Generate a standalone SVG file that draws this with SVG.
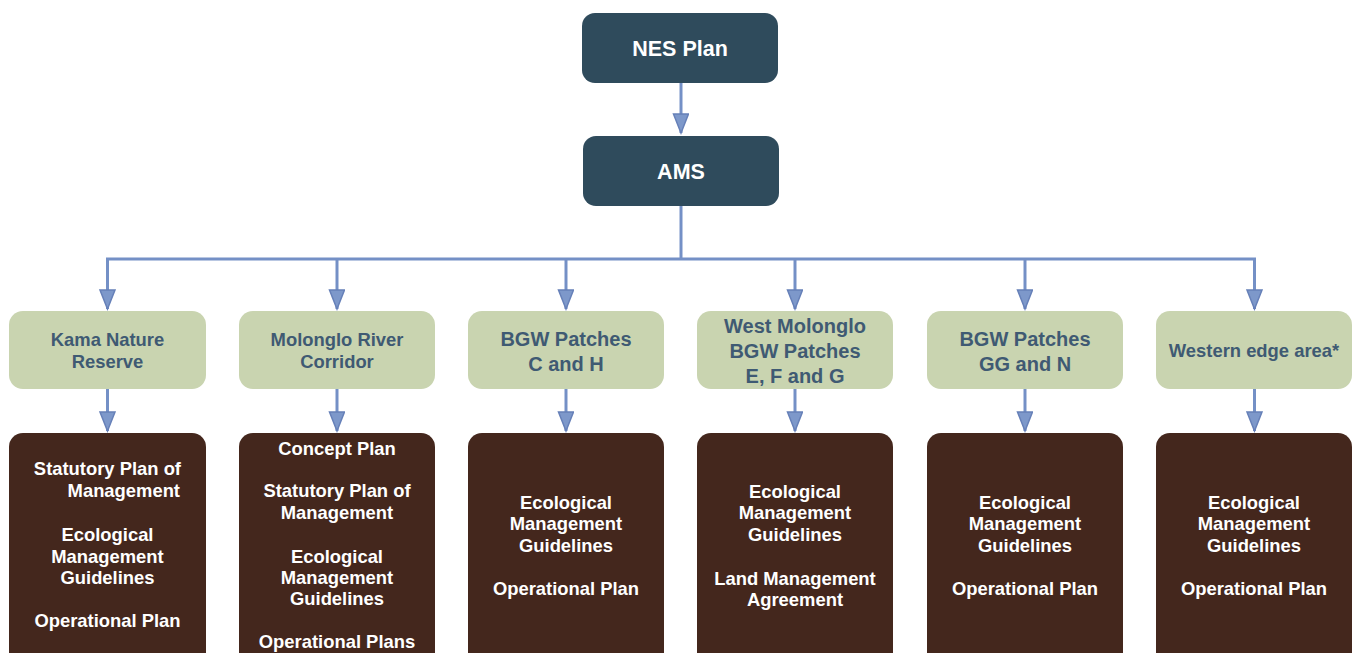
<svg xmlns="http://www.w3.org/2000/svg" width="1355" height="653" viewBox="0 0 1355 653">
<style>
.top{fill:#2f4b5c}
.grn{fill:#c9d4b0}
.brn{fill:#44271d}
.tt{font-family:"Liberation Sans",Arial,sans-serif;font-weight:bold;font-size:21.5px;fill:#ffffff;text-anchor:middle}
.gt{font-family:"Liberation Sans",Arial,sans-serif;font-weight:bold;font-size:18.4px;fill:#3f5a73;text-anchor:middle}
.gt2{font-family:"Liberation Sans",Arial,sans-serif;font-weight:bold;font-size:20px;fill:#3f5a73;text-anchor:middle}
.bt{font-family:"Liberation Sans",Arial,sans-serif;font-weight:bold;font-size:18.4px;fill:#ffffff;text-anchor:middle}
.bte{text-anchor:end}
.ln{stroke:#7490c6;stroke-width:3;fill:none}
.ar{stroke:#7490c6;stroke-width:3;fill:none;marker-end:url(#ah)}
</style>
<defs>
<marker id="ah" markerUnits="userSpaceOnUse" markerWidth="22" markerHeight="18" refX="20" refY="8" orient="auto" viewBox="0 0 22 18">
<path d="M1,0.5 L20,8 L1,15.5 z" fill="#7d98ca" stroke="#6680b8" stroke-width="1.5"/>
</marker>
</defs>
<g id="connectors">
<line class="ar" x1="681" y1="83" x2="681" y2="133"/>
<line class="ln" x1="681" y1="206" x2="681" y2="259"/>
<line class="ln" x1="106" y1="259" x2="1256" y2="259"/>
<line class="ar" x1="107.5" y1="259" x2="107.5" y2="309"/>
<line class="ar" x1="337" y1="259" x2="337" y2="309"/>
<line class="ar" x1="566" y1="259" x2="566" y2="309"/>
<line class="ar" x1="795" y1="259" x2="795" y2="309"/>
<line class="ar" x1="1025" y1="259" x2="1025" y2="309"/>
<line class="ar" x1="1254.5" y1="259" x2="1254.5" y2="309"/>
<line class="ar" x1="107.5" y1="389" x2="107.5" y2="431"/>
<line class="ar" x1="337" y1="389" x2="337" y2="431"/>
<line class="ar" x1="566" y1="389" x2="566" y2="431"/>
<line class="ar" x1="795" y1="389" x2="795" y2="431"/>
<line class="ar" x1="1025" y1="389" x2="1025" y2="431"/>
<line class="ar" x1="1254.5" y1="389" x2="1254.5" y2="431"/>
</g>
<g id="nes"><rect class="top" x="582" y="13" width="196" height="70" rx="13"/><text class="tt" x="680" y="56">NES Plan</text></g>
<g id="ams"><rect class="top" x="583" y="136" width="196" height="70" rx="13"/><text class="tt" x="681" y="179">AMS</text></g>

<g id="kama"><rect class="grn" x="9" y="311" width="197" height="78" rx="14"/><text class="gt" x="107.5" y="346">Kama Nature</text><text class="gt" x="107.5" y="368">Reserve</text></g>
<g id="molonglo"><rect class="grn" x="239" y="311" width="196" height="78" rx="14"/><text class="gt" x="337" y="346">Molonglo River</text><text class="gt" x="337" y="368">Corridor</text></g>
<g id="bgwch"><rect class="grn" x="468" y="311" width="196" height="78" rx="14"/><text class="gt2" x="566" y="346">BGW Patches</text><text class="gt2" x="566" y="371">C and H</text></g>
<g id="westmolonglo"><rect class="grn" x="697" y="311" width="196" height="78" rx="14"/><text class="gt2" x="795" y="333">West Molonglo</text><text class="gt2" x="795" y="358">BGW Patches</text><text class="gt2" x="795" y="383">E, F and G</text></g>
<g id="bgwgg"><rect class="grn" x="927" y="311" width="196" height="78" rx="14"/><text class="gt2" x="1025" y="346">BGW Patches</text><text class="gt2" x="1025" y="371">GG and N</text></g>
<g id="western"><rect class="grn" x="1156" y="311" width="196" height="78" rx="14"/><text class="gt" x="1254" y="357">Western edge area*</text></g>

<g id="kamaplans"><rect class="brn" x="9" y="433" width="197" height="240" rx="14"/>
<text class="bt bte" x="181" y="475">Statutory Plan of</text><text class="bt bte" x="180" y="497">Management</text>
<text class="bt" x="107.5" y="541">Ecological</text><text class="bt" x="107.5" y="563">Management</text><text class="bt" x="107.5" y="584">Guidelines</text>
<text class="bt" x="107.5" y="627">Operational Plan</text></g>
<g id="molongloplans"><rect class="brn" x="239" y="433" width="196" height="240" rx="14"/>
<text class="bt" x="337" y="455">Concept Plan</text>
<text class="bt" x="337" y="497">Statutory Plan of</text><text class="bt" x="337" y="519">Management</text>
<text class="bt" x="337" y="563">Ecological</text><text class="bt" x="337" y="584">Management</text><text class="bt" x="337" y="605">Guidelines</text>
<text class="bt" x="337" y="648">Operational Plans</text></g>
<g id="bgwchplans"><rect class="brn" x="468" y="433" width="196" height="240" rx="14"/>
<text class="bt" x="566" y="509">Ecological</text><text class="bt" x="566" y="530">Management</text><text class="bt" x="566" y="552">Guidelines</text>
<text class="bt" x="566" y="595">Operational Plan</text></g>
<g id="westmolongloplans"><rect class="brn" x="697" y="433" width="196" height="240" rx="14"/>
<text class="bt" x="795" y="498">Ecological</text><text class="bt" x="795" y="519">Management</text><text class="bt" x="795" y="541">Guidelines</text>
<text class="bt" x="795" y="585">Land Management</text><text class="bt" x="795" y="606">Agreement</text></g>
<g id="bgwggplans"><rect class="brn" x="927" y="433" width="196" height="240" rx="14"/>
<text class="bt" x="1025" y="509">Ecological</text><text class="bt" x="1025" y="530">Management</text><text class="bt" x="1025" y="552">Guidelines</text>
<text class="bt" x="1025" y="595">Operational Plan</text></g>
<g id="westernplans"><rect class="brn" x="1156" y="433" width="196" height="240" rx="14"/>
<text class="bt" x="1254" y="509">Ecological</text><text class="bt" x="1254" y="530">Management</text><text class="bt" x="1254" y="552">Guidelines</text>
<text class="bt" x="1254" y="595">Operational Plan</text></g>
</svg>
